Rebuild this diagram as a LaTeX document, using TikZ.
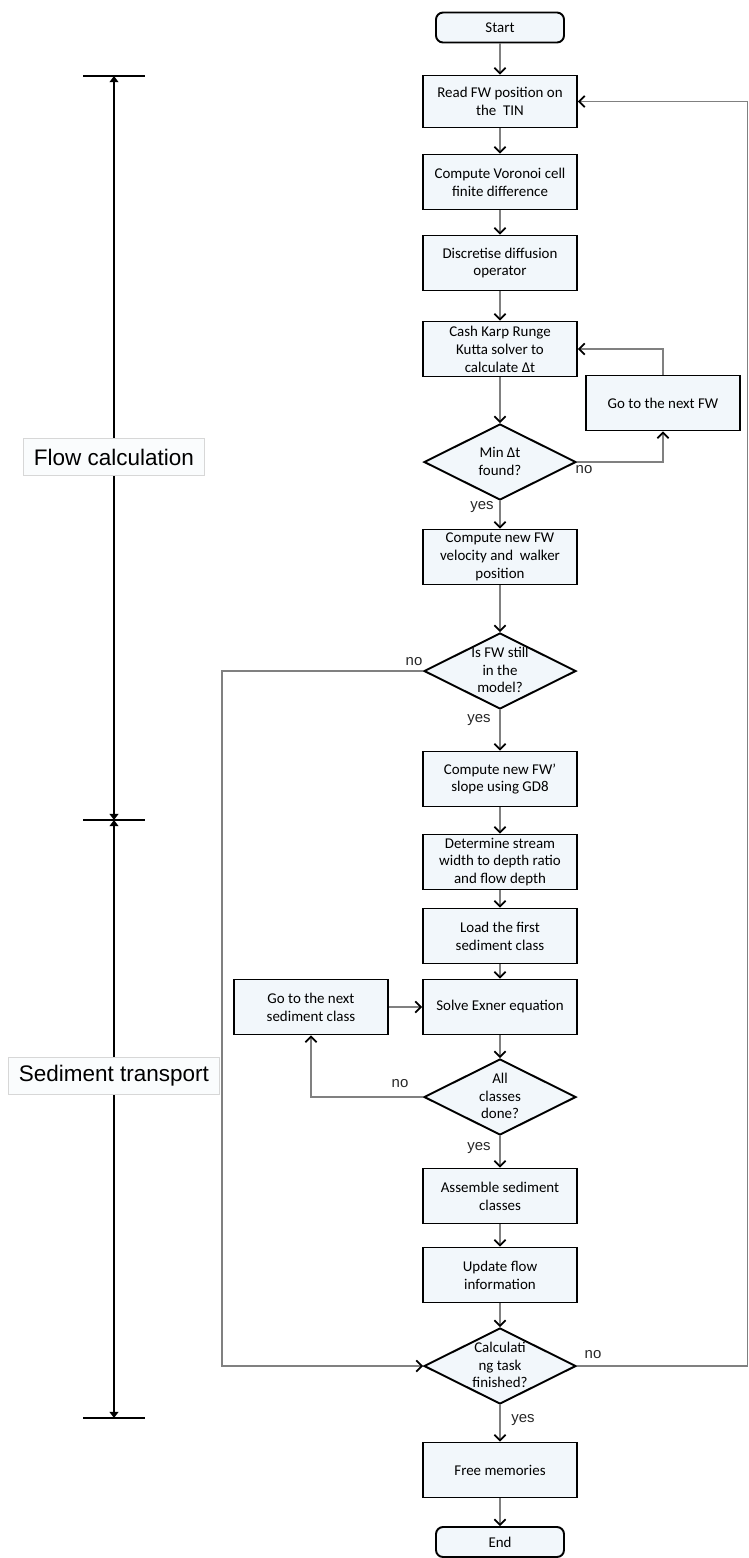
\documentclass[tikz,border=0pt]{standalone}
\usepackage{fontspec}
\setmainfont{Carlito}
\newfontfamily\arialfont{Liberation Sans}
\usetikzlibrary{shapes.geometric,arrows.meta}
\definecolor{boxfill}{RGB}{242,247,251}
\definecolor{linegray}{RGB}{128,128,128}
\definecolor{tagfill}{RGB}{250,252,253}
\definecolor{tagline}{RGB}{215,215,215}
% text of a diamond, kept from sizing the shape
\newcommand{\dtext}[1]{\makebox[0pt]{\smash{\raisebox{-2.4pt}{\begin{tabular}{@{}c@{}}#1\end{tabular}}}}}

\begin{document}
\begin{tikzpicture}[
  box/.style={draw, line width=1.1pt, fill=boxfill, minimum width=3.08cm, minimum height=1.1cm, inner sep=1pt, align=center, font=\fontsize{8.5}{10.2}\selectfont},
  term/.style={box, rounded corners=4pt, minimum width=2.56cm, minimum height=0.6cm},
  decision/.style={diamond, draw, line width=1.1pt, fill=boxfill, minimum width=3.04cm, minimum height=1.52cm, inner sep=0pt, font=\fontsize{8.5}{10}\selectfont},
  flow/.style={draw=linegray, line width=0.85pt, -{Straight Barb[length=3.2pt,width=6.4pt,line width=1pt,color=black]}},
  answer/.style={font=\arialfont\fontsize{8.5}{10}\selectfont, text=black!85},
  tag/.style={draw=tagline, fill=tagfill, font=\arialfont\fontsize{12.8}{15}\selectfont, inner xsep=6pt, minimum height=0.75cm},
  stage/.style={draw, line width=1.1pt, {Triangle[length=3.5pt,width=5pt]}-{Triangle[length=3.5pt,width=5pt]}}
]
\useasboundingbox (0,0) rectangle (14.98,-31.16);
% main column
\node[term] (1) at (10,-0.55) {Start};
\node[box, minimum height=1.04cm] (2) at (10,-2.03) {Read FW position on\\the~ TIN};
\node[box] (3) at (10,-3.64) {Compute Voronoi cell\\finite difference};
\node[box] (4) at (10,-5.26) {Discretise diffusion\\operator};
\node[box] (5) at (10,-6.98) {Cash Karp Runge\\Kutta solver to\\calculate Δt};
\node[box] (6) at (13.26,-8.06) {Go to the next FW};
\node[decision] (7) at (10,-9.24) {\dtext{Min Δt\\found?}};
\node[box] (8) at (10,-11.14) {Compute new FW\\velocity and~ walker\\position};
\node[decision] (9) at (10,-13.42) {\dtext{Is FW still\\in the\\model?}};
\node[box] (10) at (10,-15.58) {Compute new FW’\\slope using GD8};
\node[box] (11) at (10,-17.24) {Determine stream\\width to depth ratio\\and flow depth};
\node[box] (12) at (10,-18.72) {Load the first\\sediment class};
\node[box] (13) at (10,-20.14) {Solve Exner equation};
\node[box] (14) at (6.22,-20.14) {Go to the next\\sediment class};
\node[decision] (15) at (10,-21.94) {\dtext{All\\classes\\done?}};
\node[box] (16) at (10,-23.92) {Assemble sediment\\classes};
\node[box] (17) at (10,-25.5) {Update flow\\information};
\node[decision] (18) at (10,-27.32) {\dtext{Calculati\\ng task\\finished?}};
\node[box] (19) at (10,-29.4) {Free memories};
\node[term] (20) at (10,-30.84) {End};
\coordinate (c1) at (4.44,-27.32);
\coordinate (c2) at (14.95,-27.32);

\foreach \a/\b in {1/2,2/3,3/4,4/5,5/7,7/8,8/9,9/10,10/11,11/12,12/13,13/15,15/16,16/17,17/18,18/19,19/20}
  \path[flow] (\a) -- (\b);
\path[flow] (7.east) -| (6.south);
\path[flow] (6.north) |- (5.east);
\path[flow] (9.west) -| (c1) -- (18.west);
\path[flow] (15.west) -| (14.south);
\path[flow] (14.east) -- (13.west);
\path[flow] (18.east) -- (c2) |- (2.east);

\node[answer] (a1) at (11.68,-9.40) {no};
\node[answer] (a2) at (9.64,-10.14) {yes};
\node[answer] (a3) at (8.28,-13.24) {no};
\node[answer] (a4) at (9.58,-14.40) {yes};
\node[answer] (a5) at (8.00,-21.68) {no};
\node[answer] (a6) at (9.58,-22.96) {yes};
\node[answer] (a7) at (11.86,-27.10) {no};
\node[answer] (a8) at (10.46,-28.40) {yes};

% stages on the left
\coordinate (t1) at (2.28,-1.52);
\coordinate (t2) at (2.28,-16.4);
\coordinate (t3) at (2.28,-28.36);
\foreach \t in {t1,t2,t3}
  \draw[line width=1.4pt] ([xshift=-0.62cm]\t) -- ([xshift=0.62cm]\t);
\path[stage] (t1) -- (t2);
\path[stage] (t2) -- (t3);
\node[tag] (f) at (2.28,-9.14) {Flow calculation};
\node[tag] (s) at (2.28,-21.52) {Sediment transport};
\end{tikzpicture}
\end{document}
